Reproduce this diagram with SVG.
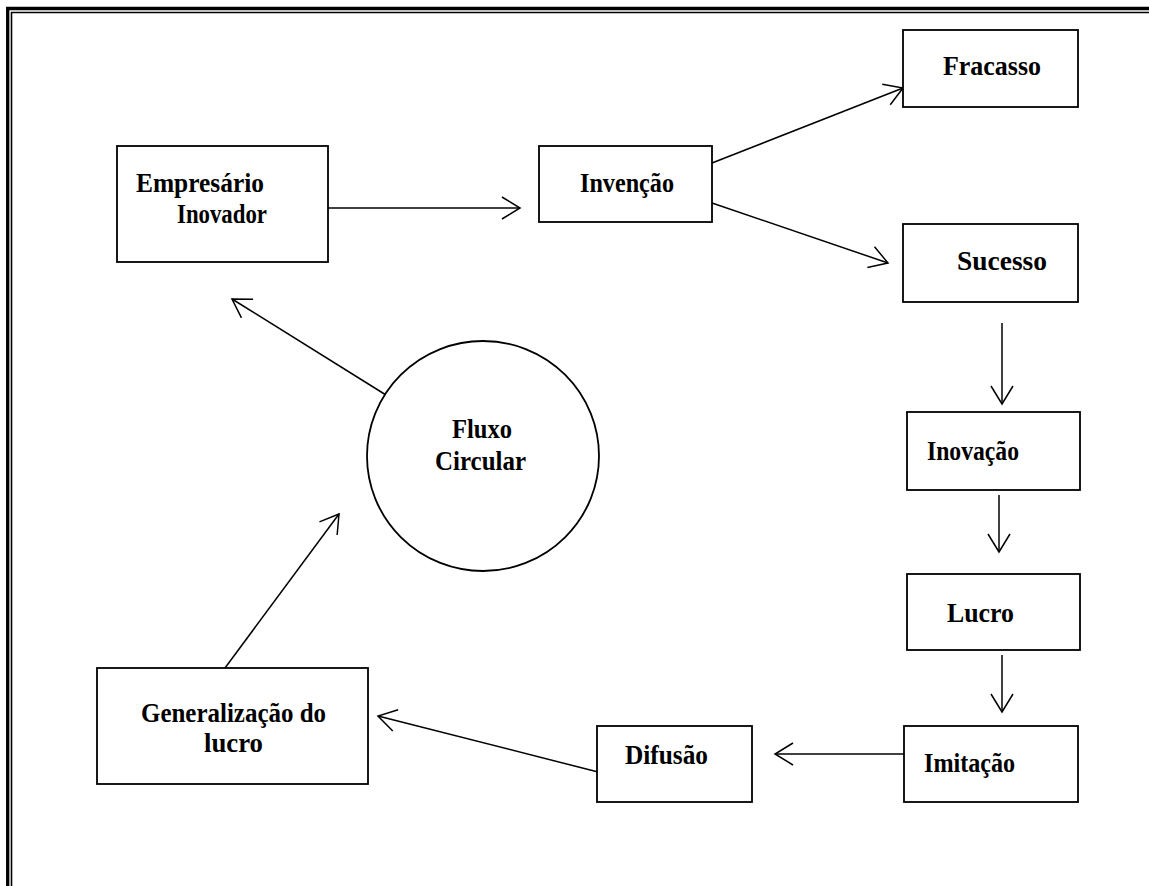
<svg xmlns="http://www.w3.org/2000/svg" width="1149" height="886" viewBox="0 0 1149 886">
<style>
.box{fill:#fff;stroke:#000;stroke-width:1.8}
.lbl{font-family:"Liberation Serif","Times New Roman",serif;font-weight:bold;font-size:27px;fill:#000}
.con{fill:none;stroke:#000;stroke-width:1.5}
</style>
<defs>
<marker id="arr" markerUnits="userSpaceOnUse" markerWidth="22" markerHeight="24" viewBox="0 0 22 24" refX="20" refY="12" orient="auto">
<path d="M2,1 L20,12 L2,23" fill="none" stroke="#000" stroke-width="1.5"/>
</marker>
</defs>
<rect width="1149" height="886" fill="#fff"/>
<g id="border">
<path d="M7.7,886 V8.5 H1149" fill="none" stroke="#000" stroke-width="3.3"/>
<path d="M11.5,886 V12.5 H1149" fill="none" stroke="#000" stroke-width="1.6"/>
</g>
<g id="connectors">
<path class="con" d="M328,208 L520,208" marker-end="url(#arr)"/>
<path class="con" d="M712,163 L903,88" marker-end="url(#arr)"/>
<path class="con" d="M712,203 L888,263" marker-end="url(#arr)"/>
<path class="con" d="M1002,323 L1002,404" marker-end="url(#arr)"/>
<path class="con" d="M999,495 L999,552" marker-end="url(#arr)"/>
<path class="con" d="M1002,655 L1002,712" marker-end="url(#arr)"/>
<path class="con" d="M907,754 L775,754" marker-end="url(#arr)"/>
<path class="con" d="M606,774 L378,716" marker-end="url(#arr)"/>
<path class="con" d="M225,668 L339,514" marker-end="url(#arr)"/>
<path class="con" d="M386,395 L232,299" marker-end="url(#arr)"/>
</g>
<g id="empresario">
<rect class="box" x="117" y="146" width="211" height="116"/>
<text class="lbl" x="136" y="192" textLength="128" lengthAdjust="spacingAndGlyphs">Empresário</text>
<text class="lbl" x="177" y="223" textLength="90" lengthAdjust="spacingAndGlyphs">Inovador</text>
</g>
<g id="invencao">
<rect class="box" x="539" y="146" width="173" height="76"/>
<text class="lbl" x="580" y="192" textLength="94" lengthAdjust="spacingAndGlyphs">Invenção</text>
</g>
<g id="fracasso">
<rect class="box" x="903" y="30" width="175" height="77"/>
<text class="lbl" x="943" y="75" textLength="98" lengthAdjust="spacingAndGlyphs">Fracasso</text>
</g>
<g id="sucesso">
<rect class="box" x="903" y="224" width="175" height="78"/>
<text class="lbl" x="957" y="270" textLength="90" lengthAdjust="spacingAndGlyphs">Sucesso</text>
</g>
<g id="inovacao">
<rect class="box" x="907" y="412" width="173" height="78"/>
<text class="lbl" x="927" y="460" textLength="92" lengthAdjust="spacingAndGlyphs">Inovação</text>
</g>
<g id="lucro">
<rect class="box" x="907" y="574" width="173" height="76"/>
<text class="lbl" x="947" y="622" textLength="67" lengthAdjust="spacingAndGlyphs">Lucro</text>
</g>
<g id="imitacao">
<rect class="box" x="904" y="726" width="174" height="76"/>
<text class="lbl" x="924" y="772" textLength="91" lengthAdjust="spacingAndGlyphs">Imitação</text>
</g>
<g id="difusao">
<rect class="box" x="597" y="726" width="155" height="76"/>
<text class="lbl" x="625" y="764" textLength="83" lengthAdjust="spacingAndGlyphs">Difusão</text>
</g>
<g id="generalizacao">
<rect class="box" x="97" y="668" width="271" height="116"/>
<text class="lbl" x="141" y="722" textLength="185" lengthAdjust="spacingAndGlyphs">Generalização do</text>
<text class="lbl" x="204" y="752" textLength="59" lengthAdjust="spacingAndGlyphs">lucro</text>
</g>
<g id="fluxo">
<ellipse class="box" cx="483" cy="456" rx="116" ry="115"/>
<text class="lbl" x="452" y="438" textLength="60" lengthAdjust="spacingAndGlyphs">Fluxo</text>
<text class="lbl" x="435" y="470" textLength="91" lengthAdjust="spacingAndGlyphs">Circular</text>
</g>
</svg>
